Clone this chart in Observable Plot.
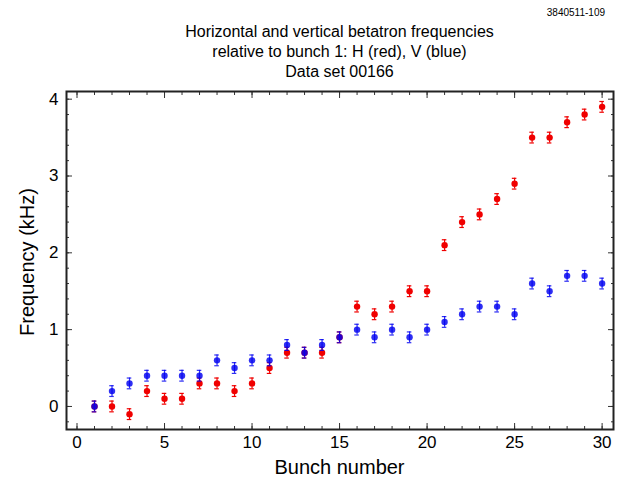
<!DOCTYPE html>
<html>
<head>
<meta charset="utf-8">
<script src="https://cdn.jsdelivr.net/npm/d3@7"></script>
<script src="https://cdn.jsdelivr.net/npm/@observablehq/plot@0.6"></script>
<style>
  body { margin: 0; background: #fff; font-family: "Liberation Sans", Arial, sans-serif; }
  #wrap { position: relative; width: 619px; height: 481px; }
  #head { position: relative; width: 619px; height: 84px; }
  #id { position: absolute; right: 14px; top: 7px; font-size: 10px; color: #000; }
  .t { position: absolute; left: 66px; width: 547px; text-align: center; font-size: 16px; color: #000; }
</style>
</head>
<body>
<div id="wrap">
  <div id="head">
    <div id="id">3840511-109</div>
    <div class="t" style="top:23px">Horizontal and vertical betatron frequencies</div>
    <div class="t" style="top:43px">relative to bunch 1: H (red), V (blue)</div>
    <div class="t" style="top:63px">Data set 00166</div>
  </div>
  <div id="chart"></div>
</div>
<script>
const bunches = d3.range(1, 31);
const freqH = [0, 0, -0.1, 0.2, 0.1, 0.1, 0.3, 0.3, 0.2, 0.3,
               0.5, 0.7, 0.7, 0.7, 0.9, 1.3, 1.2, 1.3, 1.5, 1.5,
               2.1, 2.4, 2.5, 2.7, 2.9, 3.5, 3.5, 3.7, 3.8, 3.9];
const freqV = [0, 0.2, 0.3, 0.4, 0.4, 0.4, 0.4, 0.6, 0.5, 0.6,
               0.6, 0.8, 0.7, 0.8, 0.9, 1.0, 0.9, 1.0, 0.9, 1.0,
               1.1, 1.2, 1.3, 1.3, 1.2, 1.6, 1.5, 1.7, 1.7, 1.6];
const errH = bunches.map(() => 0.07);
const errV = bunches.map(() => 0.07);
const xTicks = [0, 5, 10, 15, 20, 25, 30];
const yTicks = [0, 1, 2, 3, 4];

const H = bunches.map((b, i) => ({b, f: freqH[i], e: errH[i]}));
const V = bunches.map((b, i) => ({b, f: freqV[i], e: errV[i]}));
const RED = "#f00000", BLUE = "#0000f0";
const capW = 0.13;

function series(data, color, op) {
  return [
    Plot.ruleX(data, {x: "b", y1: d => d.f - d.e, y2: d => d.f + d.e, stroke: color, strokeWidth: 1.2, strokeOpacity: op}),
    Plot.ruleY(data, {y: d => d.f + d.e, x1: d => d.b - capW, x2: d => d.b + capW, stroke: color, strokeWidth: 1.2, strokeOpacity: op}),
    Plot.ruleY(data, {y: d => d.f - d.e, x1: d => d.b - capW, x2: d => d.b + capW, stroke: color, strokeWidth: 1.2, strokeOpacity: op}),
    Plot.dot(data, {x: "b", y: "f", r: 3.2, fill: color, fillOpacity: op})
  ];
}

const yMinor = d3.range(-2, 41, 2).map(v => v / 10);

const chart = Plot.plot({
  width: 619,
  height: 397,
  marginLeft: 66,
  marginRight: 6,
  marginTop: 7,
  marginBottom: 52,
  style: {fontFamily: "Liberation Sans, Arial, sans-serif", background: "#fff"},
  x: {domain: [-0.6, 30.65], label: null},
  y: {domain: [-0.3, 4.1], label: null},
  marks: [
    Plot.axisX(d3.range(0, 31), {anchor: "bottom", tickSize: -3, text: null, stroke: "#333"}),
    Plot.axisX(d3.range(0, 31), {anchor: "top", tickSize: -3, text: null, stroke: "#333"}),
    Plot.axisY(yMinor, {anchor: "left", tickSize: -3, text: null, stroke: "#333"}),
    Plot.axisY(yMinor, {anchor: "right", tickSize: -3, text: null, stroke: "#333"}),
    Plot.axisX(xTicks, {anchor: "bottom", tickSize: -6, text: null, stroke: "#333"}),
    Plot.axisX(xTicks, {anchor: "top", tickSize: -6, text: null, stroke: "#333"}),
    Plot.axisY(yTicks, {anchor: "left", tickSize: -6, text: null, stroke: "#333"}),
    Plot.axisY(yTicks, {anchor: "right", tickSize: -6, text: null, stroke: "#333"}),
    Plot.axisX(xTicks, {anchor: "bottom", tickSize: 0, tickPadding: 6, fontSize: 17, fill: "#000", label: null, tickFormat: d3.format("d")}),
    Plot.axisY(yTicks, {anchor: "left", tickSize: 0, tickPadding: 8, fontSize: 17, fill: "#000", label: null, tickFormat: d3.format("d")}),
    ...series(H, RED, 1),
    ...series(V, BLUE, 0.82),
    Plot.frame({stroke: "#222", strokeWidth: 2})
  ]
});
document.getElementById("chart").appendChild(chart);

const svg = d3.select(chart);
svg.append("text").attr("x", 339.5).attr("y", 390).attr("text-anchor", "middle")
  .attr("font-size", 20).attr("fill", "#000").text("Bunch number");
svg.append("text").attr("transform", "translate(34,178) rotate(-90)").attr("text-anchor", "middle")
  .attr("font-size", 20).attr("fill", "#000").text("Frequency (kHz)");
</script>
</body>
</html>
